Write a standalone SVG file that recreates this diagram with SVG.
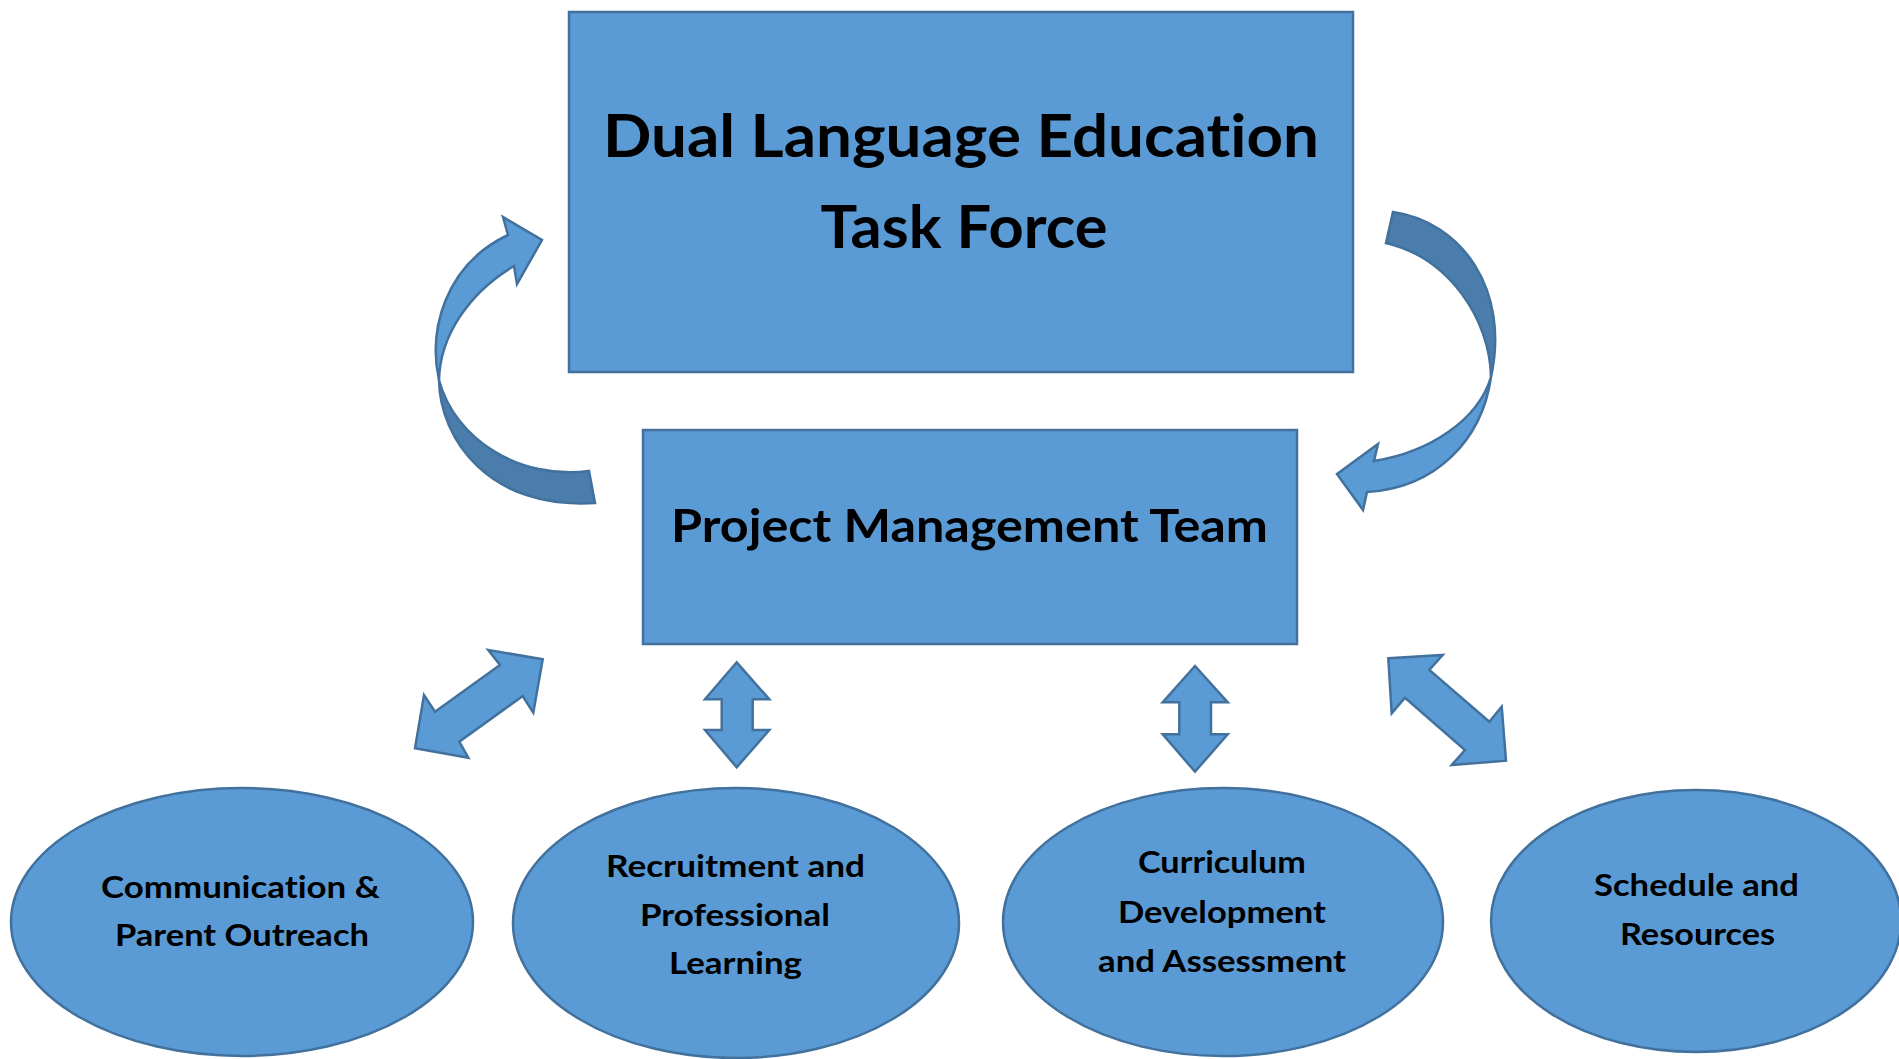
<svg xmlns="http://www.w3.org/2000/svg" width="1899" height="1059" viewBox="0 0 1899 1059">
<style>
.shape{fill:#5B9BD5;stroke:#41719C;stroke-width:2.5;stroke-linejoin:miter}
.back{fill:#4A7DAB;stroke:#41719C;stroke-width:2.5}
.t{font-family:Lato,"Open Sans","Liberation Sans",sans-serif;font-weight:bold;fill:#000;text-anchor:middle;font-variant-ligatures:none;font-feature-settings:"liga" 0,"clig" 0}
.big{font-size:59px}
.mid{font-size:46px}
.sm{font-size:30px}
</style>
<rect width="1899" height="1059" fill="#fff"/>
<g id="connectors">
  <g id="curve-left">
    <path class="back" d="M439,380 C440,440 490,510 595,503 L589,471 C520,480 455,440 439,380 Z"/>
    <path class="shape" d="M508,235 L503,217 L542,240 L517,284 L514,266 C470,292 440,335 439,380 C428,330 445,265 508,235 Z"/>
  </g>
  <g id="curve-right">
    <path class="back" d="M1393,212 C1462,222 1510,290 1491,377 C1490,320 1450,258 1386,243 Z"/>
    <path class="shape" d="M1491,377 C1482,440 1436,488 1367,492 L1363,510 L1337,474 L1378,444 L1374,461 C1430,452 1478,420 1491,377 Z"/>
  </g>
  <polygon id="arrow-diag-left" class="shape" points="542.7,659.3 488.3,650 500,665 435,711.7 424,695 415,748.3 468.3,757.7 459.3,741.7 522.7,696 533.3,712.7"/>
  <polygon id="arrow-vert-1" class="shape" points="736.7,662.3 769.3,699.3 752.7,699.3 752.7,730 769.3,730 736.7,767.3 705,730 721.7,730 721.7,699.3 705,699.3"/>
  <polygon id="arrow-vert-2" class="shape" points="1195,666 1227.7,702.3 1211,702.3 1211,734.3 1227.7,734.3 1195,771.7 1162.7,734.3 1179.3,734.3 1179.3,702.3 1162.7,702.3"/>
  <polygon id="arrow-diag-right" class="shape" points="1388.3,658.3 1442.7,655 1429.3,670 1489.3,721.7 1501.7,706.7 1506,760.7 1451.7,765 1465,750 1405,697.7 1391.7,713.3"/>
</g>
<g id="task-force">
  <rect class="shape" x="569" y="12" width="784" height="360"/>
  <text class="t big" x="961" y="157" textLength="716" lengthAdjust="spacingAndGlyphs">Dual Language Education</text>
  <text class="t big" x="964" y="248" textLength="287" lengthAdjust="spacingAndGlyphs">Task Force</text>
</g>
<g id="project-management">
  <rect class="shape" x="643" y="430" width="654" height="214"/>
  <text class="t mid" x="969.5" y="542" textLength="597" lengthAdjust="spacingAndGlyphs">Project Management Team</text>
</g>
<g id="communication">
  <ellipse class="shape" cx="242" cy="922" rx="231" ry="134"/>
  <text class="t sm" x="240.5" y="898" textLength="279" lengthAdjust="spacingAndGlyphs">Communication &amp;</text>
  <text class="t sm" x="242" y="946" textLength="254" lengthAdjust="spacingAndGlyphs">Parent Outreach</text>
</g>
<g id="recruitment">
  <ellipse class="shape" cx="736" cy="923" rx="223" ry="135"/>
  <text class="t sm" x="735.5" y="877" textLength="259" lengthAdjust="spacingAndGlyphs">Recruitment and</text>
  <text class="t sm" x="735" y="926" textLength="190" lengthAdjust="spacingAndGlyphs">Professional</text>
  <text class="t sm" x="735.5" y="974" textLength="133" lengthAdjust="spacingAndGlyphs">Learning</text>
</g>
<g id="curriculum">
  <ellipse class="shape" cx="1223" cy="922" rx="220" ry="134"/>
  <text class="t sm" x="1222" y="873" textLength="168" lengthAdjust="spacingAndGlyphs">Curriculum</text>
  <text class="t sm" x="1222" y="923" textLength="208" lengthAdjust="spacingAndGlyphs">Development</text>
  <text class="t sm" x="1222" y="972" textLength="248" lengthAdjust="spacingAndGlyphs">and Assessment</text>
</g>
<g id="schedule">
  <ellipse class="shape" cx="1696" cy="921" rx="205" ry="131"/>
  <text class="t sm" x="1696.5" y="896" textLength="205" lengthAdjust="spacingAndGlyphs">Schedule and</text>
  <text class="t sm" x="1697.5" y="945" textLength="155" lengthAdjust="spacingAndGlyphs">Resources</text>
</g>
</svg>
